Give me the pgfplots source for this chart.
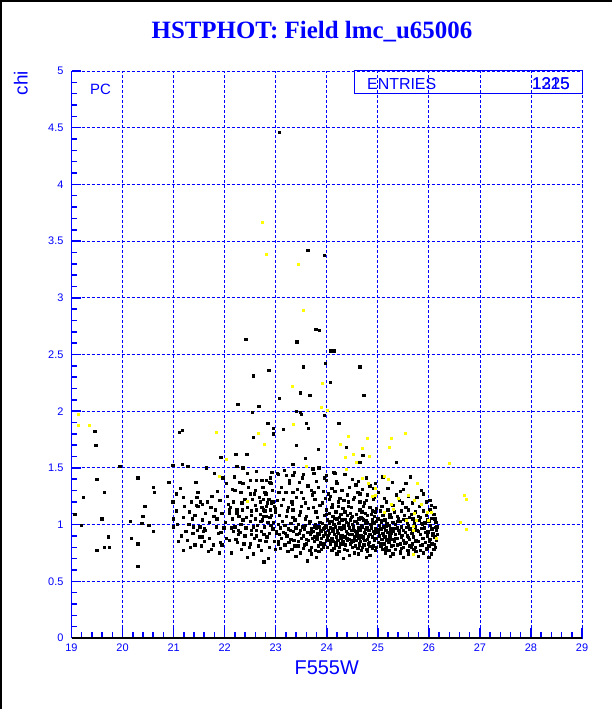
\documentclass[border=0pt]{standalone}
\usepackage{pgfplots}
\pgfplotsset{compat=1.18}
\usepackage{pgfplotstable}
\usepackage{fontspec}
\setmainfont{Liberation Serif}
\setsansfont{Liberation Sans}
\definecolor{rblue}{RGB}{0,0,255}
\definecolor{ryellow}{RGB}{255,255,0}

\pgfplotstableread{
x y
23.08 4.46
23.63 3.42
23.95 3.37
23.79 2.72
23.86 2.71
22.42 2.63
23.42 2.61
24.08 2.53
24.14 2.53
23.55 2.39
22.87 2.36
22.56 2.31
23.97 2.42
24.65 2.39
24.07 2.25
24.73 2.14
24.24 1.89
24.39 1.68
24.71 1.61
24.65 1.55
25.37 1.55
24.14 1.46
23.48 2.16
23.67 2.14
23.08 2.11
22.26 2.06
22.67 2.04
22.54 1.99
23.41 2.00
23.48 1.99
23.95 1.96
23.50 1.97
23.60 1.89
22.85 1.89
22.96 1.85
23.15 1.84
23.64 1.85
22.96 1.80
22.56 1.77
23.41 1.70
23.84 1.66
23.59 1.58
21.93 1.59
22.22 1.62
22.44 1.62
19.07 1.09
19.60 1.05
19.19 0.99
19.50 0.77
19.64 0.80
19.75 0.80
19.72 0.89
19.46 1.82
19.48 1.70
19.50 1.40
19.64 1.28
19.24 1.24
19.95 1.51
20.30 1.41
20.60 1.33
20.63 1.28
20.44 1.16
20.40 1.07
20.15 1.03
20.38 1.01
20.52 0.99
20.60 0.94
20.17 0.88
20.30 0.83
20.30 0.63
21.11 1.81
21.17 1.83
20.99 1.52
21.28 1.51
21.17 1.53
20.91 1.37
21.13 1.32
21.20 1.24
21.46 1.24
21.48 1.28
21.22 1.16
20.99 1.20
21.48 1.16
21.31 1.11
21.53 1.20
21.66 1.20
21.00 1.05
21.37 1.05
21.56 1.04
21.00 0.98
21.52 0.98
21.24 0.94
21.38 0.92
21.52 0.89
21.09 0.85
21.60 0.85
21.54 0.81
21.20 0.77
21.68 0.76
21.47 1.28
21.67 1.20
21.91 1.21
21.56 1.18
21.45 1.17
21.82 1.13
21.57 1.04
22.01 1.02
21.39 0.98
21.47 0.95
21.58 0.94
21.63 0.95
21.84 0.98
21.99 0.97
21.56 0.89
21.71 0.88
21.92 0.84
21.78 0.82
21.95 0.82
21.74 0.78
21.97 1.41
22.03 1.36
21.05 1.12
21.08 1.00
21.15 0.90
21.30 1.00
21.35 1.20
21.42 1.08
21.62 1.10
21.70 1.02
21.75 1.25
21.85 1.05
21.88 0.92
21.95 1.10
21.80 1.45
21.65 1.50
21.90 0.75
21.42 0.82
21.06 1.27
21.19 1.06
21.27 0.86
21.44 1.37
21.61 0.96
21.73 1.15
21.86 1.29
21.93 0.93
21.33 0.80
21.79 1.07
22.24 1.51
22.36 1.50
22.90 1.41
23.04 1.45
22.30 1.37
22.36 1.36
22.50 1.39
22.63 1.39
22.73 1.39
22.82 1.39
22.91 1.36
22.32 1.28
22.50 1.27
22.58 1.27
22.81 1.27
23.05 1.28
22.17 1.20
22.84 1.19
22.92 1.19
22.09 1.13
22.24 1.13
22.35 1.13
22.63 1.13
22.76 1.13
22.90 1.13
22.99 1.11
22.10 1.10
22.24 1.10
22.52 1.08
22.70 1.09
22.82 1.07
22.92 1.08
22.36 1.04
22.50 1.03
22.71 1.03
22.74 1.04
22.96 1.02
22.17 0.94
22.27 0.95
22.53 0.95
22.63 0.95
22.27 0.91
22.40 0.90
22.52 0.91
22.63 0.90
22.77 0.91
22.88 0.92
23.01 0.92
22.04 0.88
22.10 0.86
22.25 0.84
22.50 0.83
22.69 0.86
22.81 0.85
22.97 0.85
22.14 0.75
22.33 0.78
22.56 0.74
22.77 0.67
22.05 1.25
22.15 1.05
22.20 0.98
22.45 1.15
22.55 1.22
22.60 1.05
22.65 0.99
22.70 1.20
22.78 0.98
22.85 1.02
22.88 0.80
22.95 0.96
22.42 0.97
22.32 1.00
22.12 1.15
22.58 0.88
22.72 0.77
22.45 1.45
22.60 1.30
22.94 1.30
22.40 1.22
22.20 1.30
22.86 0.70
22.48 0.80
22.07 1.18
22.13 0.97
22.19 1.42
22.22 0.87
22.28 1.07
22.34 1.19
22.38 0.83
22.43 1.06
22.47 1.33
22.53 1.12
22.57 0.98
22.61 1.17
22.66 0.81
22.68 1.24
22.72 0.94
22.75 1.33
22.79 1.12
22.83 0.89
22.87 1.22
22.91 0.99
22.93 1.46
22.97 1.16
22.99 0.78
22.45 0.71
22.62 1.47
22.16 1.31
22.30 0.93
23.34 1.53
23.05 1.44
23.21 1.43
23.34 1.43
23.54 1.44
23.75 1.45
24.00 1.43
24.16 1.45
24.36 1.44
22.89 1.37
23.27 1.36
23.46 1.37
23.80 1.38
24.00 1.39
24.20 1.36
24.62 1.38
24.95 1.36
22.79 1.28
23.08 1.28
23.20 1.28
23.34 1.28
23.51 1.28
23.70 1.30
23.75 1.28
23.93 1.29
24.03 1.27
24.16 1.29
24.30 1.30
24.92 1.32
24.40 1.26
24.65 1.27
22.76 1.22
22.95 1.20
23.15 1.22
23.32 1.20
23.41 1.24
23.54 1.23
23.77 1.22
23.97 1.23
24.06 1.22
24.23 1.20
24.42 1.20
24.52 1.22
24.65 1.20
24.78 1.21
24.91 1.22
22.73 1.15
22.82 1.16
22.99 1.14
23.12 1.17
23.25 1.15
23.34 1.13
23.51 1.16
23.64 1.14
23.74 1.15
23.87 1.17
24.00 1.13
24.10 1.15
24.23 1.16
24.32 1.14
24.49 1.15
24.65 1.13
24.72 1.16
24.85 1.15
24.98 1.14
22.76 1.07
22.89 1.06
23.08 1.08
23.21 1.07
23.34 1.06
23.47 1.08
23.60 1.07
23.82 1.06
23.95 1.08
24.12 1.07
24.25 1.06
24.41 1.08
24.51 1.07
24.67 1.06
24.80 1.08
24.93 1.07
23.03 1.21
23.06 0.83
23.11 1.33
23.14 1.03
23.17 1.48
23.19 0.92
23.23 1.12
23.27 1.39
23.29 0.95
23.33 1.18
23.36 0.86
23.38 1.04
23.43 1.31
23.46 0.92
23.49 1.11
23.53 1.41
23.56 0.96
23.59 1.19
23.61 0.87
23.63 1.34
23.67 1.03
23.69 0.93
23.72 1.26
23.73 1.49
23.76 0.98
23.79 1.11
23.82 0.90
23.84 1.33
23.87 1.02
23.89 0.83
23.91 1.19
23.93 0.96
23.96 1.41
23.98 0.91
23.99 1.09
23.58 1.05
23.44 0.81
23.67 0.77
23.37 1.46
23.85 1.50
23.05 1.00
23.18 0.99
23.30 1.01
23.45 1.00
23.58 0.99
23.66 1.01
23.78 1.00
23.85 0.98
23.92 1.01
23.98 0.99
23.10 0.97
23.25 0.96
23.40 0.97
23.52 0.98
23.70 0.96
23.80 0.97
23.88 0.95
23.95 0.97
23.02 0.94
23.15 0.93
23.35 0.94
23.48 0.95
23.62 0.93
23.74 0.94
23.83 0.92
23.90 0.94
23.97 0.93
23.08 0.91
23.22 0.90
23.42 0.91
23.55 0.90
23.68 0.91
23.77 0.89
23.86 0.91
23.94 0.90
23.12 0.88
23.30 0.87
23.50 0.88
23.64 0.86
23.72 0.88
23.81 0.87
23.90 0.88
23.99 0.86
23.05 0.85
23.26 0.84
23.44 0.85
23.60 0.83
23.76 0.85
23.88 0.84
23.96 0.83
23.18 0.82
23.38 0.81
23.57 0.82
23.70 0.80
23.84 0.81
23.93 0.80
23.10 0.79
23.32 0.78
23.55 0.79
23.78 0.77
23.90 0.78
23.24 0.76
23.48 0.75
23.70 0.74
23.85 0.76
23.40 0.72
23.80 0.71
23.62 0.68
24.02 1.04
24.10 1.03
24.20 1.05
24.30 1.04
24.38 1.02
24.47 1.04
24.55 1.03
24.63 1.05
24.72 1.04
24.80 1.02
24.90 1.04
24.97 1.03
24.05 1.01
24.14 1.00
24.24 1.01
24.33 0.99
24.42 1.01
24.50 1.00
24.60 1.01
24.68 0.99
24.77 1.01
24.86 1.00
24.94 1.01
24.00 0.98
24.08 0.97
24.17 0.98
24.26 0.97
24.35 0.99
24.44 0.97
24.53 0.98
24.62 0.97
24.70 0.98
24.79 0.97
24.88 0.98
24.96 0.96
24.03 0.95
24.12 0.94
24.21 0.95
24.29 0.96
24.39 0.94
24.48 0.95
24.57 0.94
24.65 0.95
24.74 0.93
24.83 0.95
24.92 0.94
24.99 0.95
24.06 0.92
24.15 0.91
24.23 0.92
24.31 0.90
24.41 0.92
24.50 0.91
24.59 0.92
24.67 0.90
24.76 0.92
24.85 0.91
24.94 0.92
24.01 0.89
24.10 0.88
24.19 0.89
24.28 0.88
24.36 0.89
24.45 0.87
24.54 0.89
24.63 0.88
24.71 0.89
24.80 0.87
24.89 0.89
24.98 0.88
24.04 0.86
24.13 0.85
24.22 0.86
24.32 0.85
24.40 0.86
24.49 0.84
24.58 0.86
24.66 0.85
24.75 0.86
24.84 0.84
24.93 0.86
24.08 0.83
24.18 0.82
24.27 0.83
24.37 0.82
24.46 0.83
24.56 0.81
24.64 0.83
24.73 0.82
24.82 0.83
24.91 0.81
24.02 0.80
24.14 0.79
24.25 0.80
24.35 0.78
24.50 0.80
24.61 0.79
24.70 0.80
24.79 0.78
24.90 0.79
24.98 0.80
24.10 0.77
24.24 0.76
24.40 0.77
24.55 0.75
24.68 0.77
24.80 0.76
24.95 0.77
24.20 0.74
24.45 0.73
24.62 0.74
24.85 0.73
24.33 0.70
24.78 0.71
24.05 1.10
24.18 1.11
24.28 1.09
24.36 1.11
24.46 1.10
24.58 1.09
24.69 1.11
24.76 1.10
24.88 1.09
24.96 1.11
24.10 1.32
24.45 1.33
24.70 1.31
24.85 1.34
24.08 1.25
24.55 1.24
24.80 1.26
24.50 1.40
24.78 1.41
24.035 0.905
24.065 1.025
24.095 0.865
24.125 0.965
24.155 1.055
24.185 0.845
24.215 0.935
24.245 1.015
24.275 0.905
24.305 0.825
24.335 0.965
24.365 1.045
24.395 0.875
24.425 0.995
24.455 0.915
24.485 1.065
24.515 0.855
24.545 0.945
24.575 1.025
24.605 0.895
24.635 0.815
24.665 0.975
24.695 1.055
24.725 0.875
24.755 0.955
24.785 1.035
24.815 0.895
24.845 0.805
24.875 0.965
24.905 1.015
24.935 0.875
24.965 0.935
24.995 1.055
24.11 1.18
24.26 1.23
24.43 1.16
24.61 1.28
24.74 1.19
24.89 1.12
24.19 1.38
24.34 1.21
24.57 1.35
24.93 1.24
25.05 1.12
25.20 1.13
25.33 1.11
25.47 1.12
25.60 1.13
25.74 1.11
25.90 1.12
26.02 1.13
25.10 1.08
25.24 1.09
25.38 1.07
25.52 1.08
25.66 1.09
25.80 1.07
25.95 1.08
26.10 1.09
25.02 1.05
25.14 1.04
25.27 1.06
25.41 1.05
25.55 1.04
25.69 1.05
25.83 1.06
25.97 1.04
26.12 1.05
25.07 1.02
25.18 1.01
25.30 1.02
25.44 1.03
25.58 1.01
25.72 1.02
25.86 1.01
26.00 1.03
26.14 1.02
25.03 0.99
25.12 0.98
25.22 0.99
25.34 1.00
25.47 0.98
25.60 0.99
25.74 0.98
25.88 1.00
26.03 0.99
26.16 0.98
25.06 0.96
25.16 0.95
25.26 0.96
25.38 0.97
25.50 0.95
25.63 0.96
25.77 0.95
25.91 0.97
26.06 0.96
26.15 0.95
25.01 0.93
25.10 0.92
25.20 0.93
25.31 0.94
25.42 0.92
25.54 0.93
25.67 0.92
25.80 0.94
25.94 0.93
26.08 0.92
25.04 0.90
25.14 0.89
25.24 0.90
25.35 0.91
25.46 0.89
25.58 0.90
25.70 0.89
25.84 0.91
25.98 0.90
26.12 0.89
25.08 0.87
25.18 0.86
25.28 0.87
25.39 0.88
25.50 0.86
25.62 0.87
25.75 0.86
25.88 0.88
26.02 0.87
26.15 0.86
25.02 0.84
25.12 0.83
25.22 0.84
25.33 0.85
25.44 0.83
25.56 0.84
25.68 0.83
25.80 0.85
25.93 0.84
26.06 0.83
25.06 0.81
25.17 0.80
25.27 0.81
25.38 0.82
25.50 0.80
25.62 0.81
25.74 0.80
25.87 0.82
26.00 0.81
26.13 0.80
25.10 0.78
25.22 0.77
25.34 0.78
25.46 0.79
25.59 0.77
25.71 0.78
25.84 0.77
25.97 0.79
26.10 0.78
25.15 0.75
25.30 0.74
25.45 0.75
25.60 0.74
25.75 0.76
25.90 0.75
26.05 0.74
25.25 0.72
25.50 0.71
25.80 0.72
26.00 0.71
25.08 1.16
25.30 1.17
25.55 1.15
25.82 1.16
26.05 1.17
25.17 1.20
25.42 1.21
25.68 1.19
25.95 1.20
25.36 1.26
25.60 1.25
25.90 1.27
25.20 1.32
25.50 1.31
25.55 1.36
25.10 1.42
25.025 0.955
25.055 0.835
25.085 1.035
25.115 0.905
25.145 0.785
25.175 0.985
25.205 0.865
25.235 1.065
25.265 0.925
25.295 0.815
25.325 0.965
25.355 0.875
25.385 1.025
25.415 0.945
25.445 0.765
25.475 0.905
25.505 1.045
25.535 0.835
25.565 0.975
25.595 0.885
25.625 1.065
25.655 0.795
25.685 0.925
25.715 1.005
25.745 0.855
25.775 0.945
25.805 1.035
25.835 0.815
25.865 0.965
25.895 0.875
25.925 1.015
25.955 0.785
25.985 0.935
26.015 0.855
26.045 1.055
26.075 0.905
26.105 0.825
26.135 0.975
26.165 0.915
25.13 1.23
25.48 1.19
25.77 1.24
26.02 1.21
25.29 1.37
25.64 1.42
26.12 1.15
25.86 1.30
25.01 1.28
25.44 1.29
}\blackdata

\pgfplotstableread{
x y
19.13 1.97
19.13 1.87
19.36 1.87
21.84 1.81
21.89 1.42
22.03 1.57
22.44 1.20
22.67 1.80
22.75 3.66
22.78 1.71
22.81 3.38
23.32 2.22
23.34 1.88
23.44 3.29
23.55 2.89
23.61 1.51
23.90 2.03
23.92 2.24
24.02 2.01
24.26 1.71
24.37 1.59
24.38 1.49
24.42 1.78
24.52 1.62
24.59 1.55
24.71 1.67
24.71 1.41
24.80 1.76
24.81 1.36
24.83 1.60
24.90 1.25
24.95 1.26
24.96 1.32
25.14 1.42
25.21 1.40
25.13 1.11
25.22 1.68
25.27 1.76
25.27 1.18
25.31 1.13
25.40 1.23
25.55 1.80
25.56 1.04
25.61 1.26
25.71 1.21
25.70 0.98
25.72 1.10
25.69 0.95
25.76 1.04
25.78 1.36
25.86 1.18
25.98 1.11
26.06 1.11
26.15 0.88
25.69 0.74
25.99 1.04
26.41 1.54
26.62 1.02
26.70 1.26
26.73 1.22
26.74 0.96
}\yellowdata

\begin{document}
\begin{tikzpicture}
\path[use as bounding box] (0bp,0bp) rectangle (612bp,709bp);
\fill[white] (0bp,0bp) rectangle (612bp,709bp);
\fill[black] (0bp,0bp) rectangle (2bp,709bp);
\fill[black] (0bp,707bp) rectangle (612bp,709bp);
\begin{axis}[
  at={(71.5bp,71bp)}, anchor=south west,
  scale only axis, width=510.5bp, height=567bp,
  xmin=19, xmax=29, ymin=0, ymax=5,
  clip=false,
  axis line style={draw=none},
  xtick={19,20,...,29}, ytick={0,0.5,...,5},
  minor x tick num=4, minor y tick num=4,
  xtick pos=bottom, ytick pos=left,
  tick align=inside,
  major tick length=10bp, minor tick length=6bp,
  tick style={rblue, line width=1.5bp},
  grid=major,
  major grid style={rblue, line width=0.8bp, dash pattern=on 3bp off 2bp},
  /pgf/number format/assume math mode=true,
  ticklabel style={text=rblue, font=\sffamily\fontsize{11}{11}\selectfont},
  xticklabel style={yshift=-2bp},
  yticklabel style={xshift=-4.5bp},
  xlabel={F555W},
  xlabel style={at={(axis description cs:0.5,0)}, anchor=center, yshift=-30bp, text=rblue, font=\sffamily\fontsize{20}{20}\selectfont},
  ylabel={chi},
  ylabel style={at={(axis description cs:-0.099,0.979)}, anchor=center, rotate=0, text=rblue, font=\sffamily\fontsize{19}{19}\selectfont},
  title={HSTPHOT: Field lmc\_u65006},
  title style={at={(axis description cs:0.471,1.0476)}, anchor=base, text=rblue, font=\bfseries\fontsize{25}{25}\selectfont},
]
\addplot[only marks, mark=square*, mark size=1.15bp, mark options={fill=black, draw=black, line width=0pt}] table[x=x, y=y] {\blackdata};
\addplot[only marks, mark=square*, mark size=1bp, mark options={fill=ryellow, draw=ryellow, line width=0pt}] table[x=x, y=y] {\yellowdata};
\draw[rblue, line width=1bp] (rel axis cs:0.5544,0.9605) rectangle (rel axis cs:1,1);
\draw[rblue, line width=1.5bp] (rel axis cs:0,0) -- (rel axis cs:0,1);
\draw[black, line width=1.5bp] (rel axis cs:0,0) -- (rel axis cs:1,0);
\node[anchor=base west, inner sep=0pt, text=rblue, font=\sffamily\fontsize{15}{15}\selectfont] at (rel axis cs:0.036,0.959) {PC};
\node[anchor=base west, inner sep=0pt, text=rblue, font=\sffamily\fontsize{16}{16}\selectfont] at (rel axis cs:0.5788,0.9665) {ENTRIES};
\node[anchor=base east, inner sep=0pt, text=rblue, font=\sffamily\fontsize{17}{17}\selectfont] at (rel axis cs:0.9765,0.9665) {1225};
\node[anchor=base east, inner sep=0pt, text=rblue, font=\sffamily\fontsize{17}{17}\selectfont] at (rel axis cs:0.9765,0.9665) {1315};
\end{axis}
\end{tikzpicture}
\end{document}
